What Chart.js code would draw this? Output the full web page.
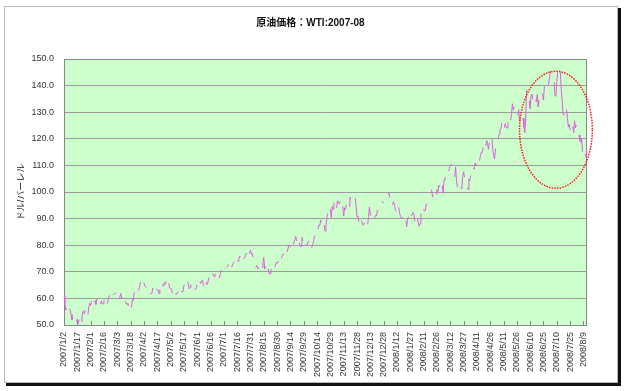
<!DOCTYPE html>
<html lang="ja">
<head>
<meta charset="utf-8">
<title>原油価格：WTI</title>
<script src="https://cdn.jsdelivr.net/npm/chart.js@4.4.1/dist/chart.umd.min.js"></script>
<style>
    html, body { margin: 0; padding: 0; background: #fff; }
    #wrap { width: 625px; height: 391px; }
</style>
</head>
<body>
<div id="wrap"><canvas id="wtiChart" width="625" height="391"></canvas></div>
<script>
// WTI daily close, one array per month, calendar aligned (_ = no trading: weekend / holiday)
const _ = null;
const p2007_01 = [61.05, 58.32, 55.59, 56.31, _, _, 56.09, 55.64, 53.96, 51.88, 52.99, _, _, _, 51.21, 52.24, 50.48, 51.99, _, _, 51.13, 55.04, 55.37, 54.23, 55.42, _, _, 54.01, 56.97, 58.14]; // from 1/2
const p2007_02 = [57.30, 59.02, _, _, 58.74, 59.12, 57.71, 59.71, 59.89, _, _, 57.81, 59.06, 58.00, 57.99, 59.39, _, _, _, 58.07, 60.07, 60.95, 61.14, _, _, 61.39, 61.46, 61.79];
const p2007_03 = [62.00, 61.64, _, _, 60.07, 60.69, 61.82, 60.05, 60.05, _, _, 58.91, 57.93, 58.16, 57.55, 57.11, _, _, 56.59, 59.61, 59.25, 62.07, 62.28, _, _, 62.91, 63.09, 64.08, 66.03, 65.87, _];
const p2007_04 = [_, 65.94, 64.64, 64.38, 64.28, _, _, _, 61.51, 61.89, 62.01, 63.85, 63.63, _, _, 63.61, 63.10, 63.12, 61.83, 63.38, _, _, 65.40, 64.56, 65.90, 65.31, 66.46, _, _, 65.71];
const p2007_05 = [63.94, 63.67, 63.68, 61.93, _, _, 61.47, 61.55, 61.55, 62.37, 62.37, _, _, 62.46, 62.55, 62.57, 64.86, 64.94, _, _, 66.27, 65.55, 63.55, 64.18, 65.20, _, _, _, 63.15, 63.49, 64.01];
const p2007_06 = [65.08, _, _, 66.21, 65.61, 66.61, 66.93, 64.76, _, _, 65.97, 65.32, 65.97, 67.65, 68.00, _, _, 69.10, 69.10, 68.19, 68.98, 69.14, _, _, 68.15, 67.77, 68.97, 70.47, 70.68, _];
const p2007_07 = [_, 71.09, 71.41, _, 71.81, 72.81, _, _, 72.19, 71.85, 72.59, 73.50, 73.93, _, _, 74.12, 73.96, 75.03, 75.92, 75.57, _, _, 74.89, 74.95, 75.88, 76.85, 77.02, _, _, 76.83, 78.21];
const p2007_08 = [76.53, 76.86, 75.48, _, _, 71.62, 72.36, 71.16, 71.47, 71.47, _, _, 71.62, 73.38, 75.38, 71.00, 71.98, _, _, 71.12, 69.27, 69.26, 70.80, 71.09, _, _, 72.02, 72.08, 73.51, 73.36, 74.04];
const p2007_09 = [_, _, _, 75.08, 76.30, 76.70, 76.70, _, _, 77.49, 78.23, 79.91, 80.09, 79.10, _, _, 80.57, 81.51, 81.93, 83.32, 81.62, _, _, 80.95, 79.53, 79.59, 82.88, 81.66, _, _];
const p2007_10 = [80.24, 79.97, 79.94, 81.44, 81.22, _, _, 79.02, 80.30, 81.30, 83.08, 83.69, _, _, 86.13, 87.61, 87.40, 89.47, 88.60, _, _, 87.55, 85.27, 87.10, 90.46, 91.86, _, _, 93.53, 90.38, 94.53];
const p2007_11 = [93.49, 95.93, _, _, 93.98, 96.70, 96.37, 95.46, 96.32, _, _, 94.62, 90.99, 94.09, 93.43, 95.10, _, _, 94.64, 98.03, 97.29, _, 98.18, _, _, 97.70, 94.42, 90.62, 91.01, 88.71];
const p2007_12 = [_, _, 89.31, 88.32, 87.49, 88.28, 88.28, _, _, 87.86, 90.76, 94.39, 91.25, 91.27, _, _, 90.63, 90.49, 91.24, 91.06, 93.31, _, _, 93.99, _, 96.62, 96.00, 96.00, _, _, 95.98];
const p2008_01 = [_, 99.62, 99.18, 97.91, _, _, 95.09, 96.33, 95.67, 93.67, 92.69, _, _, 94.20, 91.90, 90.84, 90.13, 90.57, _, _, _, 89.21, 86.99, 89.92, 90.71, _, _, 90.99, 91.62, 92.33, 91.75];
const p2008_02 = [88.96, _, _, 90.02, 88.41, 87.14, 88.11, 91.77, _, _, 93.59, 92.78, 93.27, 95.46, 95.50, _, _, _, 100.74, 100.74, 98.23, 98.81, _, _, 99.23, 100.88, 99.64, 102.59, 101.84];
const p2008_03 = [_, _, 102.45, 99.52, 104.52, 105.47, 105.15, _, _, 107.90, 108.75, 109.92, 110.33, 110.21, _, _, 105.68, 109.42, 104.48, 101.84, _, _, _, 101.86, 101.22, 105.90, 107.58, 105.62, _, _, 101.58];
const p2008_04 = [100.98, 104.83, 104.22, 106.23, _, _, 109.09, 108.50, 110.87, 110.11, 110.14, _, _, 111.76, 113.79, 114.93, 114.86, 116.69, _, _, 117.48, 119.37, 118.30, 116.06, 118.52, _, _, 119.75, 115.63, 113.46];
const p2008_05 = [112.52, 116.32, _, _, 119.97, 121.84, 123.53, 123.69, 125.96, _, _, 124.23, 125.80, 124.12, 124.12, 126.29, _, _, 127.05, 129.07, 133.17, 130.81, 132.19, _, _, _, 128.85, 131.03, 126.62, 127.35, _];
const p2008_06 = [_, 127.76, 124.31, 122.30, 127.79, 138.54, _, _, 134.35, 131.31, 136.38, 136.74, 134.86, _, _, 134.61, 134.01, 136.68, 131.93, 134.62, _, _, 136.74, 136.80, 134.55, 139.64, 140.21, _, _, 140.00];
const p2008_07 = [140.97, 143.57, 145.29, _, _, _, 141.37, 136.04, 136.05, 141.65, 145.08, _, _, 145.18, 138.74, 134.60, 129.29, 128.88, _, _, 131.04, 127.95, 124.44, 125.49, 123.26, _, _, 124.73, 122.19, 126.77, 124.08];
const p2008_08 = [125.10, _, _, 121.41, 119.17, 118.58, 120.02, 115.20, _, _, 114.45, 113.01, 116.00];

// [year, month, first day in array, values]
const months = [
    [2007, 1, 2, p2007_01], [2007, 2, 1, p2007_02], [2007, 3, 1, p2007_03], [2007, 4, 1, p2007_04],
    [2007, 5, 1, p2007_05], [2007, 6, 1, p2007_06], [2007, 7, 1, p2007_07], [2007, 8, 1, p2007_08],
    [2007, 9, 1, p2007_09], [2007, 10, 1, p2007_10], [2007, 11, 1, p2007_11], [2007, 12, 1, p2007_12],
    [2008, 1, 1, p2008_01], [2008, 2, 1, p2008_02], [2008, 3, 1, p2008_03], [2008, 4, 1, p2008_04],
    [2008, 5, 1, p2008_05], [2008, 6, 1, p2008_06], [2008, 7, 1, p2008_07], [2008, 8, 1, p2008_08]
];

const yTicks = [50, 60, 70, 80, 90, 100, 110, 120, 130, 140, 150];
const labelStep = 15; // a date label every 15 calendar days

// highlighted region (red dotted ellipse)
const ringDate = '2008/7/9';
const ringValue = 123.4;
const ringDays = 41;
const ringSpan = 22;

const labels = [];
const prices = [];
months.forEach(([y, m, first, vals]) => {
    vals.forEach((v, i) => {
        labels.push(`${y}/${m}/${first + i}`);
        prices.push(v);
    });
});

const FONT = "'Liberation Sans', Arial, 'Noto Sans CJK JP', sans-serif";

const framePlugin = {
    id: 'frame',
    beforeDraw(chart) {
        const { ctx, chartArea: a } = chart;
        ctx.save();
        ctx.fillStyle = '#fff';
        ctx.fillRect(0, 0, chart.width, chart.height);
        // drop shadow
        ctx.fillStyle = '#111';
        ctx.fillRect(618, 8, 3, 378);
        ctx.fillRect(6, 383, 615, 3);
        ctx.strokeStyle = '#b8b8b8';
        ctx.lineWidth = 1;
        ctx.strokeRect(4.5, 6.5, 613, 376);
        // plot area
        ctx.fillStyle = '#ccffcc';
        ctx.fillRect(a.left, a.top, a.right - a.left, a.bottom - a.top);
        ctx.restore();
    },
    beforeDatasetsDraw(chart) {
        const { ctx, chartArea: a, scales: { x } } = chart;
        ctx.save();
        ctx.strokeStyle = '#888';
        ctx.lineWidth = 1;
        ctx.strokeRect(Math.round(a.left) + 0.5, Math.round(a.top) + 0.5,
            Math.round(a.right - a.left) - 1, Math.round(a.bottom - a.top));
        // inside tick marks on the date axis
        ctx.beginPath();
        for (let i = 0; i < labels.length; i += labelStep) {
            const px = Math.round(x.getPixelForValue(i)) + 0.5;
            ctx.moveTo(px, a.bottom);
            ctx.lineTo(px, a.bottom - 4);
        }
        ctx.stroke();
        ctx.restore();
    },
    afterDatasetsDraw(chart) {
        const { ctx, scales: { x, y } } = chart;
        const ci = labels.indexOf(ringDate);
        const cx = x.getPixelForValue(ci);
        const cy = y.getPixelForValue(ringValue);
        const rx = x.getPixelForValue(ci + ringDays) - cx;
        const ry = y.getPixelForValue(ringValue - ringSpan) - cy;
        ctx.save();
        ctx.strokeStyle = '#ff1a1a';
        ctx.lineWidth = 1.5;
        ctx.setLineDash([1.5, 1.2]);
        ctx.beginPath();
        ctx.ellipse(cx, cy, rx, ry, 0, 0, Math.PI * 2);
        ctx.stroke();
        ctx.restore();
    }
};

new Chart(document.getElementById('wtiChart').getContext('2d'), {
    type: 'line',
    data: {
        labels: labels,
        datasets: [{
            label: 'WTI',
            data: prices,
            borderColor: '#e45ce4',
            borderWidth: 1,
            pointRadius: 0,
            tension: 0,
            spanGaps: false
        }]
    },
    options: {
        responsive: false,
        animation: false,
        layout: { padding: { top: 6, left: 4, right: 8, bottom: 5 } },
        plugins: {
            legend: { display: false },
            tooltip: { enabled: false },
            title: {
                display: true,
                text: '原油価格：WTI:2007-08',
                color: '#111',
                font: { family: FONT, size: 10, weight: 'bold' },
                padding: { top: 11, bottom: 30 }
            }
        },
        scales: {
            x: {
                grid: { display: false, drawTicks: false },
                border: { display: false },
                ticks: {
                    autoSkip: false,
                    minRotation: 90,
                    maxRotation: 90,
                    padding: 7,
                    color: '#333',
                    font: { family: FONT, size: 9 },
                    callback: function (value, index) {
                        return index % labelStep === 0 ? this.getLabelForValue(value) : '';
                    }
                },
                afterFit: s => { s.height = 61; }
            },
            y: {
                min: yTicks[0],
                max: yTicks[yTicks.length - 1],
                afterBuildTicks: s => { s.ticks = yTicks.map(v => ({ value: v })); },
                grid: { color: '#9c9c9c', drawTicks: false },
                border: { display: false },
                ticks: {
                    padding: 10,
                    color: '#333',
                    font: { family: FONT, size: 9 },
                    callback: v => v.toFixed(1)
                },
                title: {
                    display: true,
                    text: 'ドル/バーレル',
                    color: '#111',
                    font: { family: FONT, size: 9 },
                    padding: { top: 12, bottom: 0 }
                },
                afterFit: s => { s.width = 60; }
            },
            // empty right-hand box so the plot stops where the original's does
            pad: {
                position: 'right',
                grid: { display: false, drawTicks: false },
                border: { display: false },
                ticks: { display: false },
                afterFit: s => { s.width = 30; }
            }
        }
    },
    plugins: [framePlugin]
});
</script>
</body>
</html>
